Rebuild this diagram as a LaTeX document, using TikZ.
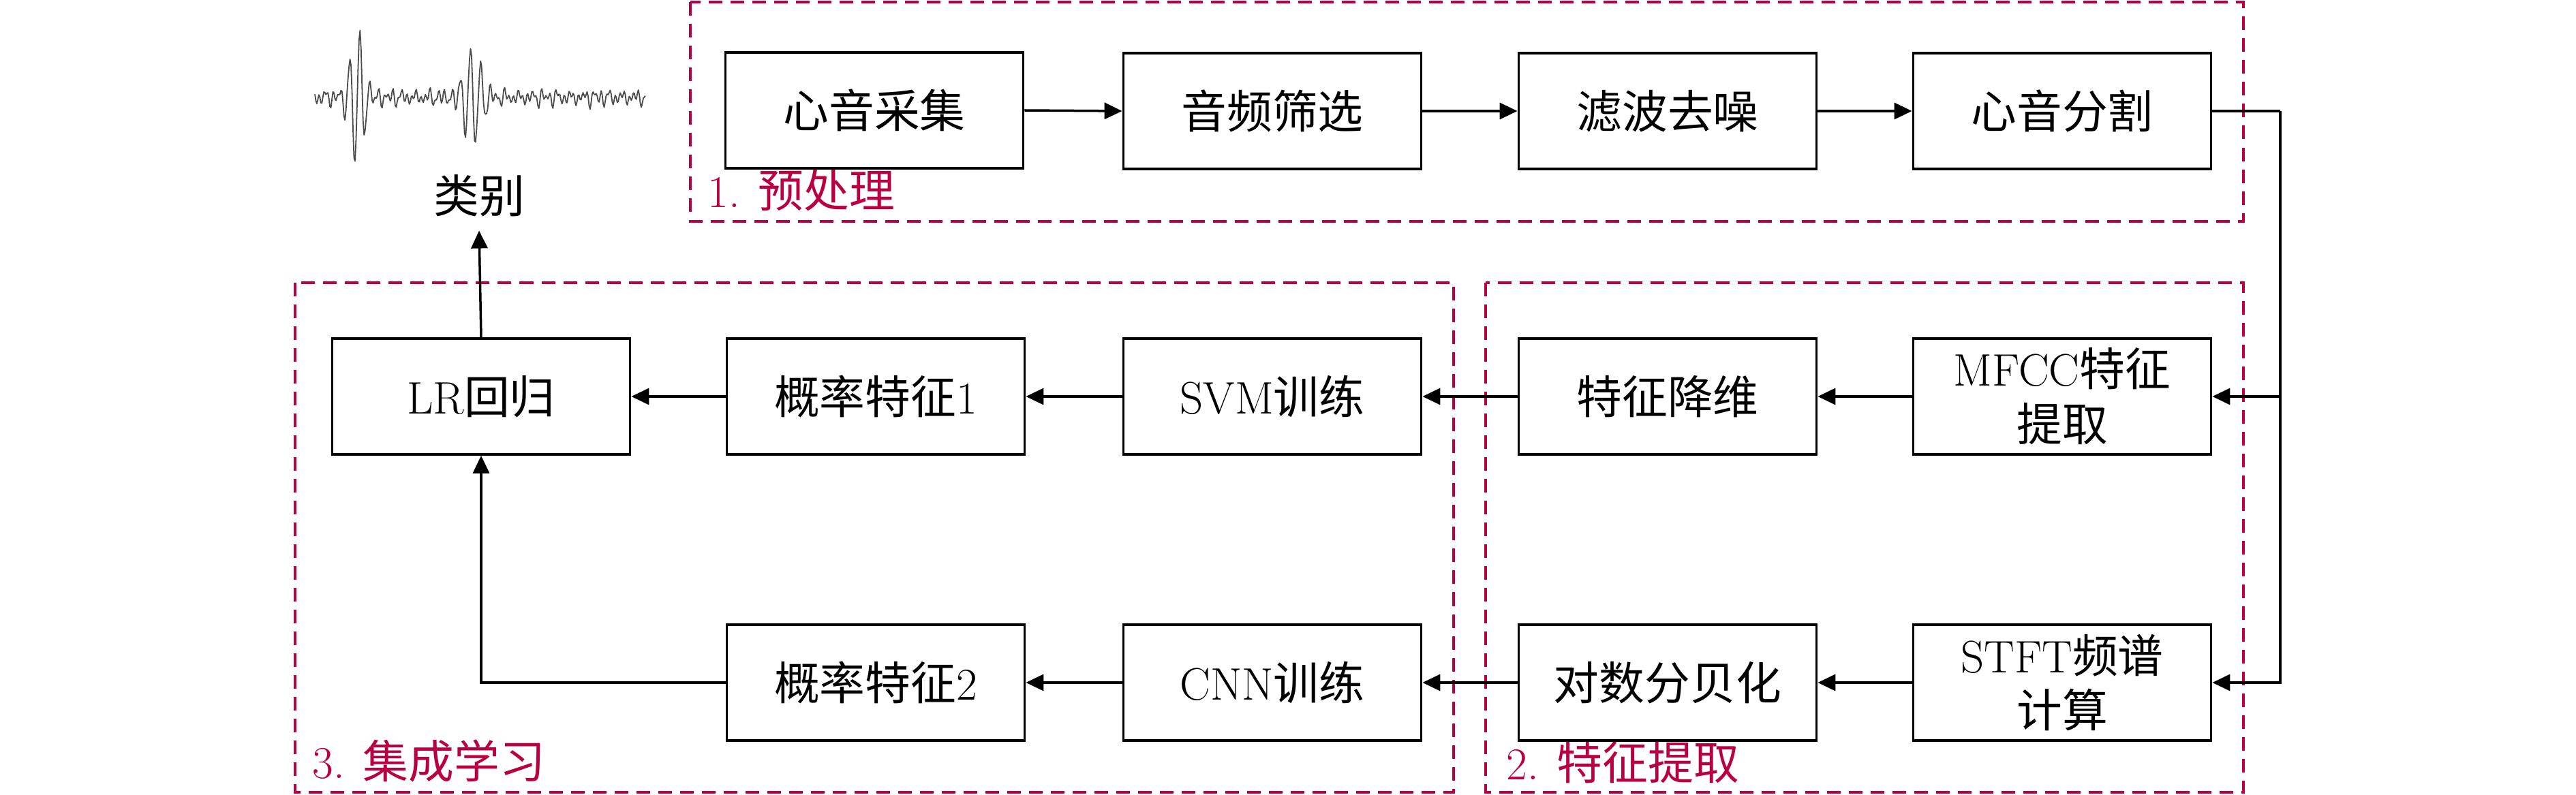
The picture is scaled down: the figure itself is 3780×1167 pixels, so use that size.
\documentclass[tikz,border=0pt]{standalone}
\usepackage{fontspec}
\newfontfamily\cjk{Noto Sans CJK SC}
\usetikzlibrary{arrows.meta}
\definecolor{crim}{RGB}{185,0,65}
\begin{document}
\begin{tikzpicture}[x=0.01cm,y=-0.01cm,
  blk/.style={draw,line width=0.035cm,minimum width=4.37cm,minimum height=1.7cm,align=center,font=\fontsize{19}{23}\selectfont,inner sep=0pt},
  grp/.style={draw=crim,line width=0.032cm,dash pattern=on 0.2cm off 0.12cm},
  lbl/.style={text=crim,font=\fontsize{19}{23}\selectfont,anchor=base west,inner sep=0pt},
  conn/.style={line width=0.035cm},
  arr/.style={conn,-{Triangle[length=0.26cm,width=0.24cm]}}]
\useasboundingbox (0,0) rectangle (3780,1167);

% group frames
\draw[grp] (1013,3) rectangle (3292,325);
\draw[grp] (433,415) rectangle (2133,1163);
\draw[grp] (2180,415) rectangle (3292,1163);
\node[lbl] (l1) at (1038,305) {1. {\cjk 预处理}};
\node[lbl] (l3) at (458,1142) {3. {\cjk 集成学习}};
\node[lbl] (l2) at (2210,1144) {2. {\cjk 特征提取}};

% waveform
\draw[black!70,line width=0.018cm,line join=round] plot[domain=-24.3:24.2,samples=330,variable=\u]
  ({705+10*\u},{143-(105*exp(max(-9,-(\u+18.0)*(\u+18.0)/2.0))*sin(240*\u+20)
   +75*exp(max(-9,-(\u+1.3)*(\u+1.3)/3.2))*sin(240*\u+80)
   +8*sin(330*\u)*(0.6+0.4*sin(47*\u))+6*sin(530*\u+40)+5*sin(190*\u+100))});
\node[font=\fontsize{19}{23}\selectfont,inner sep=0.2cm] (leibie) at (703,287) {\cjk 类别};

% top row
\node[blk] (caiji) at (1283,162) {\cjk 心音采集};
\node[blk] (shaixuan) at (1867,163) {\cjk 音频筛选};
\node[blk] (lvbo) at (2447,163) {\cjk 滤波去噪};
\node[blk] (fenge) at (3026,163) {\cjk 心音分割};

% middle row
\node[blk] (lr) at (706,582) {LR{\cjk 回归}};
\node[blk] (p1) at (1285,582) {{\cjk 概率特征}1};
\node[blk] (svm) at (1867,582) {SVM{\cjk 训练}};
\node[blk] (jw) at (2447,582) {\cjk 特征降维};
\node[blk] (mfcc) at (3026,582) {MFCC{\cjk 特征}\\{\cjk 提取}};

% bottom row
\node[blk] (p2) at (1285,1002) {{\cjk 概率特征}2};
\node[blk] (cnn) at (1867,1002) {CNN{\cjk 训练}};
\node[blk] (db) at (2447,1002) {\cjk 对数分贝化};
\node[blk] (stft) at (3026,1002) {STFT{\cjk 频谱}\\{\cjk 计算}};

% connectors
\draw[arr] (caiji.east) -- (shaixuan.west);
\draw[arr] (shaixuan.east) -- (lvbo.west);
\draw[arr] (lvbo.east) -- (fenge.west);
\coordinate (j) at (3346,163);
\draw[conn] (fenge.east) -- (j);
\draw[arr] (j) |- (mfcc.east);
\draw[arr] (j) |- (stft.east);
\draw[arr] (mfcc.west) -- (jw.east);
\draw[arr] (jw.west) -- (svm.east);
\draw[arr] (svm.west) -- (p1.east);
\draw[arr] (p1.west) -- (lr.east);
\draw[arr] (stft.west) -- (db.east);
\draw[arr] (db.west) -- (cnn.east);
\draw[arr] (cnn.west) -- (p2.east);
\draw[arr] (p2.west) -| (lr.south);
\draw[arr] (lr.north) -- (leibie.south);
\end{tikzpicture}
\end{document}
